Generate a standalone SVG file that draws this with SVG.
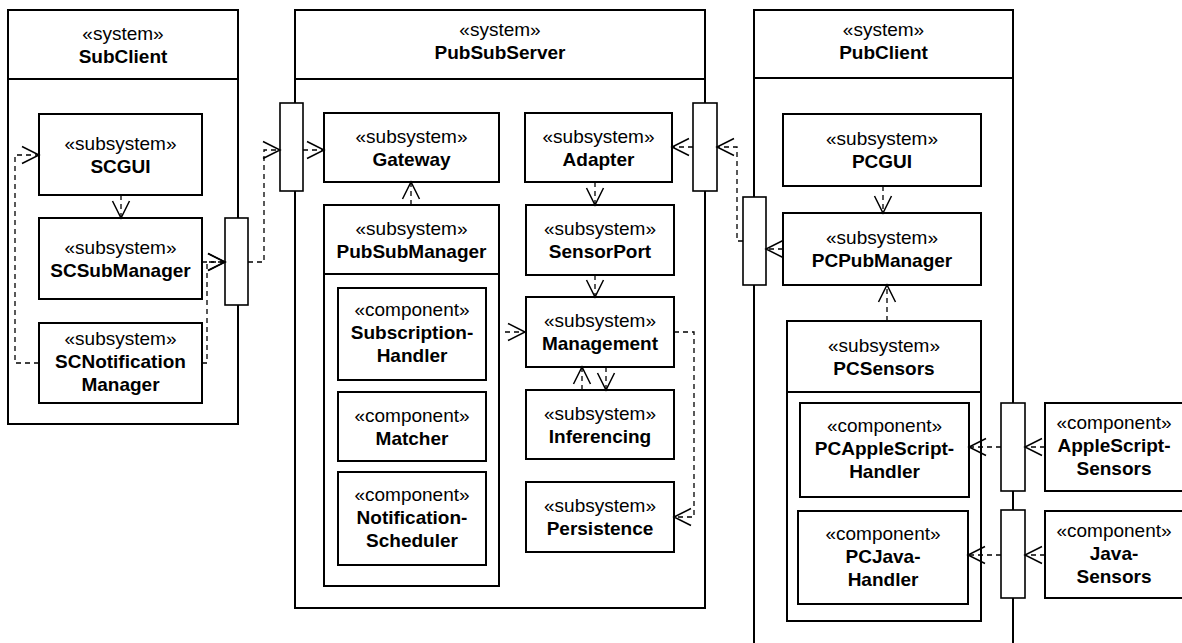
<svg xmlns="http://www.w3.org/2000/svg" width="1182" height="643" viewBox="0 0 1182 643">
<style>
.box{fill:#fff;stroke:#000;stroke-width:2}
.port{fill:#fff;stroke:#000;stroke-width:1.6}
.sep{stroke:#000;stroke-width:2}
.dep{fill:none;stroke:#000;stroke-width:1.3;stroke-dasharray:5 4;marker-end:url(#arr)}
.head{fill:none;stroke:#000;stroke-width:1.5;stroke-dasharray:none}
text{font-family:"Liberation Sans",Arial,sans-serif;font-size:19px;text-anchor:middle;fill:#000}
.nm{font-weight:bold}
</style>
<defs>
<marker id="arr" markerUnits="userSpaceOnUse" markerWidth="24" markerHeight="24" viewBox="-2 -2 24 24" refX="17" refY="8.5" orient="auto" overflow="visible">
<path class="head" d="M0,0 L17,8.5 L0,17"/>
</marker>
</defs>
<rect width="1182" height="643" fill="#fff"/>

<g id="SubClient">
<rect class="box" x="8" y="10" width="230" height="414"/>
<line class="sep" x1="8" y1="79" x2="238" y2="79"/>
<text x="123" y="40">«system»</text>
<text class="nm" x="123" y="63">SubClient</text>
</g>
<g id="PubSubServer">
<rect class="box" x="295" y="10" width="410" height="598"/>
<line class="sep" x1="295" y1="79" x2="705" y2="79"/>
<text x="500" y="36">«system»</text>
<text class="nm" x="500" y="59">PubSubServer</text>
</g>
<g id="PubClient">
<rect class="box" x="754" y="10" width="259" height="660"/>
<line class="sep" x1="754" y1="78" x2="1013" y2="78"/>
<text x="883.5" y="36">«system»</text>
<text class="nm" x="883.5" y="59">PubClient</text>
</g>

<g id="SCGUI">
<rect class="box" x="39" y="114" width="163" height="81"/>
<text x="120.5" y="150">«subsystem»</text>
<text class="nm" x="120.5" y="173">SCGUI</text>
</g>
<g id="SCSubManager">
<rect class="box" x="39" y="218" width="163" height="81"/>
<text x="120.5" y="254">«subsystem»</text>
<text class="nm" x="120.5" y="277">SCSubManager</text>
</g>
<g id="SCNotificationManager">
<rect class="box" x="39" y="323" width="163" height="80"/>
<text x="120.5" y="345">«subsystem»</text>
<text class="nm" x="120.5" y="368">SCNotification</text>
<text class="nm" x="120.5" y="391">Manager</text>
</g>
<g id="SCPort"><rect class="port" x="225" y="218" width="23" height="87"/></g>

<g id="ServerPortLeft"><rect class="port" x="280" y="103" width="23" height="88"/></g>
<g id="ServerPortRight"><rect class="port" x="693" y="103" width="24" height="88"/></g>

<g id="Gateway">
<rect class="box" x="324" y="113" width="175" height="69"/>
<text x="411.5" y="142.5">«subsystem»</text>
<text class="nm" x="411.5" y="165.5">Gateway</text>
</g>
<g id="PubSubManager">
<rect class="box" x="324" y="205" width="175" height="381"/>
<line class="sep" x1="324" y1="274" x2="499" y2="274"/>
<text x="411.5" y="234.5">«subsystem»</text>
<text class="nm" x="411.5" y="257.5">PubSubManager</text>
</g>
<g id="SubscriptionHandler">
<rect class="box" x="338" y="288" width="148" height="92"/>
<text x="412" y="316">«component»</text>
<text class="nm" x="412" y="339">Subscription-</text>
<text class="nm" x="412" y="362">Handler</text>
</g>
<g id="Matcher">
<rect class="box" x="338" y="392" width="148" height="69"/>
<text x="412" y="421.5">«component»</text>
<text class="nm" x="412" y="444.5">Matcher</text>
</g>
<g id="NotificationScheduler">
<rect class="box" x="338" y="472" width="148" height="93"/>
<text x="412" y="500.5">«component»</text>
<text class="nm" x="412" y="523.5">Notification-</text>
<text class="nm" x="412" y="546.5">Scheduler</text>
</g>
<g id="Adapter">
<rect class="box" x="525" y="113" width="147" height="69"/>
<text x="598.5" y="142.5">«subsystem»</text>
<text class="nm" x="598.5" y="165.5">Adapter</text>
</g>
<g id="SensorPort">
<rect class="box" x="526" y="205" width="148" height="70"/>
<text x="600" y="235">«subsystem»</text>
<text class="nm" x="600" y="258">SensorPort</text>
</g>
<g id="Management">
<rect class="box" x="526" y="297" width="148" height="70"/>
<text x="600" y="327">«subsystem»</text>
<text class="nm" x="600" y="350">Management</text>
</g>
<g id="Inferencing">
<rect class="box" x="526" y="390" width="148" height="69"/>
<text x="600" y="419.5">«subsystem»</text>
<text class="nm" x="600" y="442.5">Inferencing</text>
</g>
<g id="Persistence">
<rect class="box" x="526" y="482" width="148" height="70"/>
<text x="600" y="512">«subsystem»</text>
<text class="nm" x="600" y="535">Persistence</text>
</g>

<g id="PCPort"><rect class="port" x="743" y="197" width="23" height="88"/></g>
<g id="PCGUI">
<rect class="box" x="783" y="114" width="198" height="72"/>
<text x="882" y="145">«subsystem»</text>
<text class="nm" x="882" y="168">PCGUI</text>
</g>
<g id="PCPubManager">
<rect class="box" x="783" y="213" width="198" height="72"/>
<text x="882" y="244">«subsystem»</text>
<text class="nm" x="882" y="267">PCPubManager</text>
</g>
<g id="PCSensors">
<rect class="box" x="787" y="321" width="194" height="300"/>
<line class="sep" x1="787" y1="392" x2="981" y2="392"/>
<text x="884" y="351.5">«subsystem»</text>
<text class="nm" x="884" y="374.5">PCSensors</text>
</g>
<g id="PCAppleScriptHandler">
<rect class="box" x="800" y="403" width="169" height="94"/>
<text x="884.5" y="432">«component»</text>
<text class="nm" x="884.5" y="455">PCAppleScript-</text>
<text class="nm" x="884.5" y="478">Handler</text>
</g>
<g id="PCJavaHandler">
<rect class="box" x="798" y="511" width="170" height="93"/>
<text x="883" y="539.5">«component»</text>
<text class="nm" x="883" y="562.5">PCJava-</text>
<text class="nm" x="883" y="585.5">Handler</text>
</g>
<g id="PCPortApple"><rect class="port" x="1001" y="403" width="24" height="88"/></g>
<g id="PCPortJava"><rect class="port" x="1001" y="510" width="24" height="88"/></g>
<g id="AppleScriptSensors">
<rect class="box" x="1045" y="403" width="160" height="88"/>
<text x="1114" y="429">«component»</text>
<text class="nm" x="1114" y="452">AppleScript-</text>
<text class="nm" x="1114" y="475">Sensors</text>
</g>
<g id="JavaSensors">
<rect class="box" x="1045" y="511" width="160" height="87"/>
<text x="1114" y="536.5">«component»</text>
<text class="nm" x="1114" y="559.5">Java-</text>
<text class="nm" x="1114" y="582.5">Sensors</text>
</g>

<g id="connectors">
<path class="dep" d="M121,195 L121,218"/>
<path class="dep" d="M39,363 L15,363 L15,155 L39,155"/>
<path class="dep" d="M202,262 L225,262"/>
<path class="dep" d="M202,363 L207,363 L207,262 L225,262"/>
<path class="dep" d="M248,262 L264,262 L264,150 L280,150"/>
<path class="dep" d="M303,150 L324,150"/>
<path class="dep" d="M411,205 L411,182"/>
<path class="dep" d="M505,332 L525,332"/>
<path class="dep" d="M693,147 L672,147"/>
<path class="dep" d="M595,182 L595,205"/>
<path class="dep" d="M595,275 L595,297"/>
<path class="dep" d="M582,390 L582,367"/>
<path class="dep" d="M606,367 L606,390"/>
<path class="dep" d="M674,332 L694,332 L694,517 L674,517"/>
<path class="dep" d="M743,241 L737,241 L737,147 L717,147"/>
<path class="dep" d="M783,249 L766,249"/>
<path class="dep" d="M883,186 L883,213"/>
<path class="dep" d="M887,321 L887,285"/>
<path class="dep" d="M1001,447 L969,447"/>
<path class="dep" d="M1045,447 L1025,447"/>
<path class="dep" d="M1001,555 L968,555"/>
<path class="dep" d="M1045,555 L1025,555"/>
</g>
</svg>
